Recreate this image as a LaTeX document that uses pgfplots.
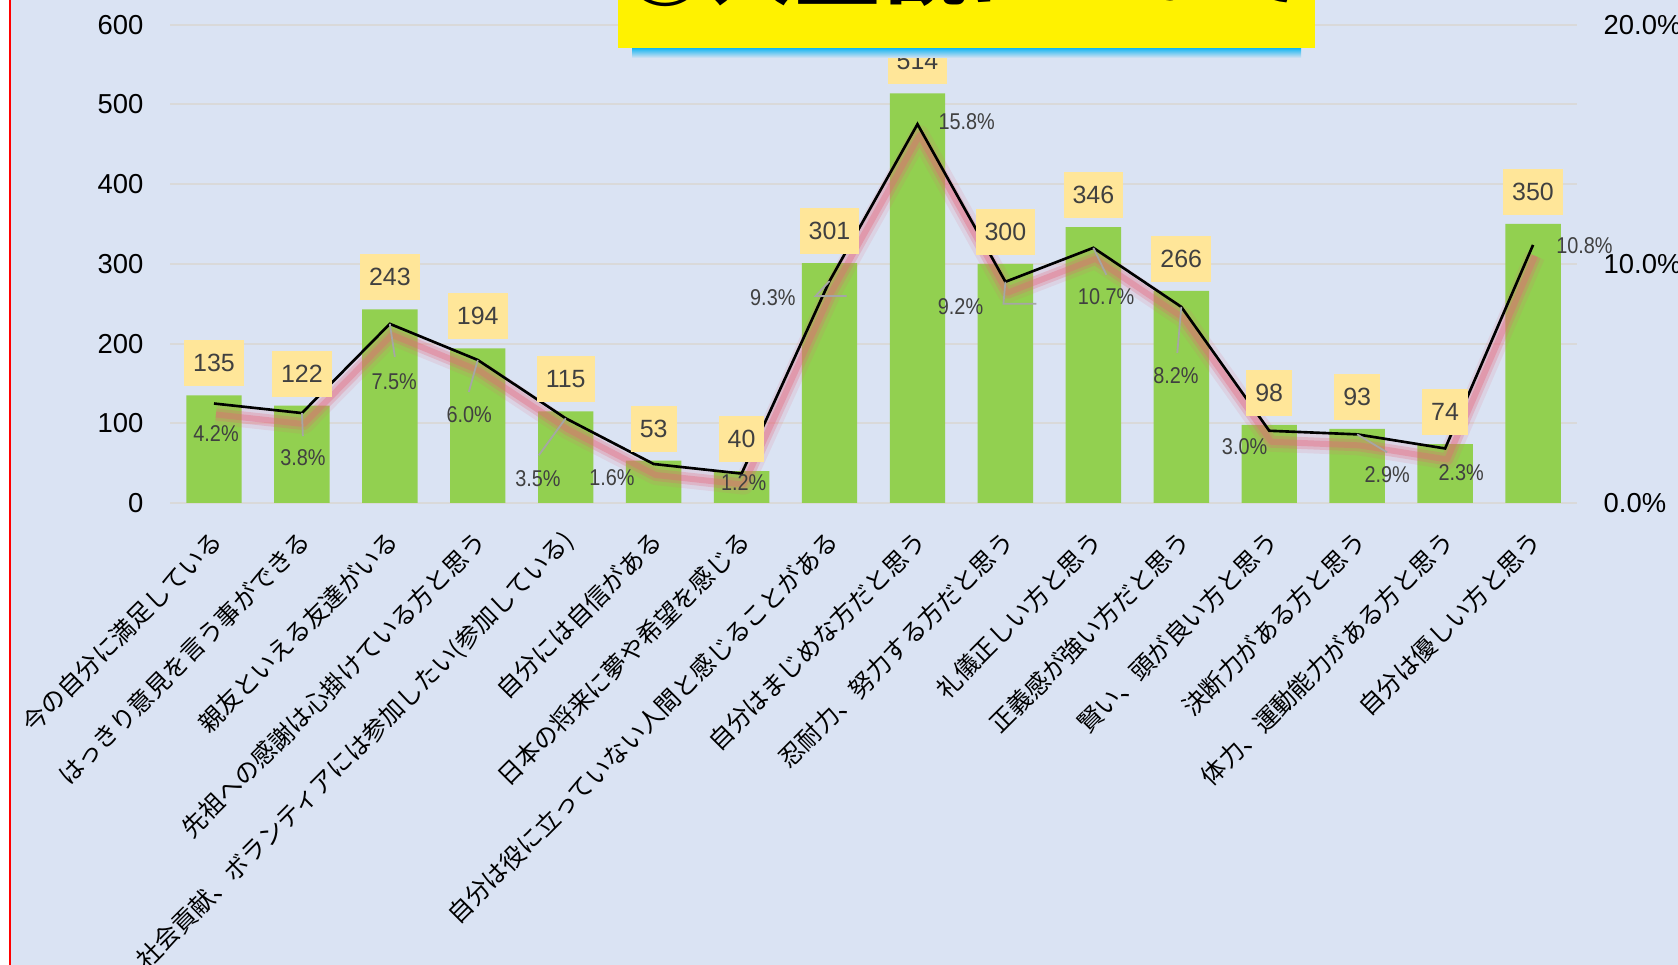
\documentclass[border=0pt]{standalone}
\usepackage{fontspec}
\setmainfont{Liberation Sans}
\newfontfamily\jp{Noto Sans CJK JP}
\newfontfamily\pctfont[FakeStretch=0.87]{Liberation Sans}
\usepackage{pgfplots}
\usepackage{pgfplotstable}
\pgfplotsset{compat=1.18}

\definecolor{bg}{HTML}{DAE3F3}
\definecolor{gridc}{HTML}{D9D9D9}
\definecolor{bargreen}{HTML}{92D050}
\definecolor{lblbox}{HTML}{FFE699}
\definecolor{lbltext}{HTML}{404040}
\definecolor{leader}{HTML}{A6A6A6}
\definecolor{glow}{RGB}{230,100,120}
\definecolor{shadowcyan}{HTML}{00B0F0}

% number of answers per item
\pgfplotstableread{
x n
0 135
1 122
2 243
3 194
4 115
5 53
6 40
7 301
8 514
9 300
10 346
11 266
12 98
13 93
14 74
15 350
}\counts

% share of answers (%), printed label, label offset (mm)
\pgfplotstableread{
x p lbl dx dy
0 4.16 4.2 0.21 -3.00
1 3.76 3.8 0.11 -4.49
2 7.49 7.5 0.43 -5.78
3 5.98 6.0 -0.86 -5.46
4 3.54 3.5 -2.78 -5.99
5 1.63 1.6 -4.17 -1.39
6 1.23 1.2 0.21 -0.86
7 9.28 9.3 -5.67 -1.61
8 15.84 15.8 4.92 0.21
9 9.25 9.2 -4.49 -2.46
10 10.67 10.7 1.28 -4.92
11 8.20 8.2 -0.54 -6.85
12 3.02 3.0 -2.46 -1.61
13 2.87 2.9 3.00 -4.07
14 2.28 2.3 1.61 -2.46
15 10.79 10.8 5.14 -0.11
}\pcts

\pgfplotsset{
  base/.style={
    scale only axis, width=140.7mm, height=47.83mm,
    at={(17mm,46.2mm)}, anchor=south west,
    xmin=-0.5, xmax=15.5,
    axis line style={draw=none}, tick style={draw=none},
    /pgf/number format/assume math mode=true,
  },
}

\begin{document}
\begin{tikzpicture}
\useasboundingbox (0,0) rectangle (167.8mm,96.5mm);
\fill[white] (0,0) rectangle (167.8mm,96.5mm);
\fill[bg] (1.0mm,0) rectangle (167.8mm,96.5mm);
\draw[red, line width=0.2mm] (0.95mm,0) -- (0.95mm,96.5mm);

% bars
\begin{axis}[base, ybar, bar width=0.63,
  ymin=0, ymax=600, ytick={0,100,...,600},
  yticklabel={\pgfmathprintnumber{\tick}},
  ymajorgrids, grid style={draw=gridc, line width=0.6pt},
  yticklabel style={font=\fontsize{7.8}{9}\selectfont, inner sep=0pt, xshift=-2.6mm},
  xtick={0,...,15},
  xticklabels={今の自分に満足している,はっきり意見を言う事ができる,親友といえる友達がいる,先祖への感謝は心掛けている方と思う,社会貢献、ボランティアには参加したい(参加している),自分には自信がある,日本の将来に夢や希望を感じる,自分は役に立っていない人間と感じることがある,自分はまじめな方だと思う,忍耐力、努力する方だと思う,礼儀正しい方と思う,正義感が強い方だと思う,賢い、頭が良い方と思う,決断力がある方と思う,体力、運動能力がある方と思う,自分は優しい方と思う},
  xticklabel style={font=\jp\fontsize{7.0}{8}\selectfont, rotate=45, anchor=east, inner sep=0pt, yshift=-1.6mm, xshift=-1.0mm},
]
\addplot[fill=bargreen, draw=none] table[x=x,y=n]{\counts};
\end{axis}

% share line
\begin{axis}[base, clip=false,
  ymin=0, ymax=20, axis y line*=right, axis x line=none,
  ytick={0,10,20},
  yticklabel={\pgfmathprintnumber[fixed,fixed zerofill,precision=1]{\tick}\%},
  yticklabel style={font=\fontsize{7.8}{9}\selectfont, anchor=west, inner sep=0pt, xshift=2.6mm},
]
\addplot[glow, line width=2.0mm, opacity=0.13, line join=round, mark=none, xshift=0.2mm, yshift=-1.1mm] table[x=x,y=p]{\pcts};
\addplot[glow, line width=1.2mm, opacity=0.25, line join=round, mark=none, xshift=0.2mm, yshift=-1.1mm] table[x=x,y=p]{\pcts};
\addplot[glow, line width=0.6mm, opacity=0.35, line join=round, mark=none, xshift=0.2mm, yshift=-1.1mm] table[x=x,y=p]{\pcts};
\addplot[black, line width=0.75pt, mark=none,
  point meta=explicit symbolic,
  visualization depends on={\thisrow{dx}\as\dx},
  visualization depends on={\thisrow{dy}\as\dy},
  nodes near coords={\pgfplotspointmeta\%},
  nodes near coords style={font=\pctfont\fontsize{6.5}{7}\selectfont, text=lbltext,
    anchor=center, inner sep=0pt, xshift=\dx mm, yshift=\dy mm},
] table[x=x,y=p,meta=lbl]{\pcts};
\draw[leader, line width=0.5pt] (axis cs:1,3.76) -- ++(0.1mm,-2.3mm);
\draw[leader, line width=0.5pt] (axis cs:2,7.49) -- ++(0.5mm,-3.3mm);
\draw[leader, line width=0.5pt] (axis cs:3,5.98) -- ++(-0.9mm,-3.2mm);
\draw[leader, line width=0.5pt] (axis cs:4,3.54) -- ++(-2.7mm,-3.7mm);
\draw[leader, line width=0.5pt] (axis cs:7,9.28) -- ++(-1.4mm,-1.5mm) -- ++(-1.3mm,0);
\draw[leader, line width=0.5pt] (axis cs:9,9.25) -- ++(-0.2mm,-2.2mm) -- ++(-1.1mm,0);
\draw[leader, line width=0.5pt] (axis cs:10,10.67) -- ++(1.3mm,-2.7mm);
\draw[leader, line width=0.5pt] (axis cs:11,8.20) -- ++(-0.4mm,-4.6mm);
\draw[leader, line width=0.5pt] (axis cs:13,2.87) -- ++(3.0mm,-1.8mm);
\end{axis}

% count labels on top
\begin{axis}[base, hide axis, ymin=0, ymax=600]
\addplot[draw=none, mark=none, nodes near coords,
  nodes near coords style={fill=lblbox, text=lbltext, font=\fontsize{7.1}{8}\selectfont,
    inner xsep=0.9mm, inner ysep=0pt, minimum height=4.6mm, anchor=south, yshift=0.85mm},
] table[x=x,y=n]{\counts};
\end{axis}

% title box (cut off at the top)
\shade[top color=shadowcyan, bottom color=bg] (63.2mm,90.7mm) rectangle (130.1mm,91.8mm);
\fill[yellow] (61.75mm,91.7mm) rectangle (131.5mm,97mm);
\node[anchor=base west, inner sep=0pt, font=\jp\bfseries\fontsize{24.5}{26}\selectfont] at (62.2mm,96.6mm) {①人生観について};
\end{tikzpicture}
\end{document}
